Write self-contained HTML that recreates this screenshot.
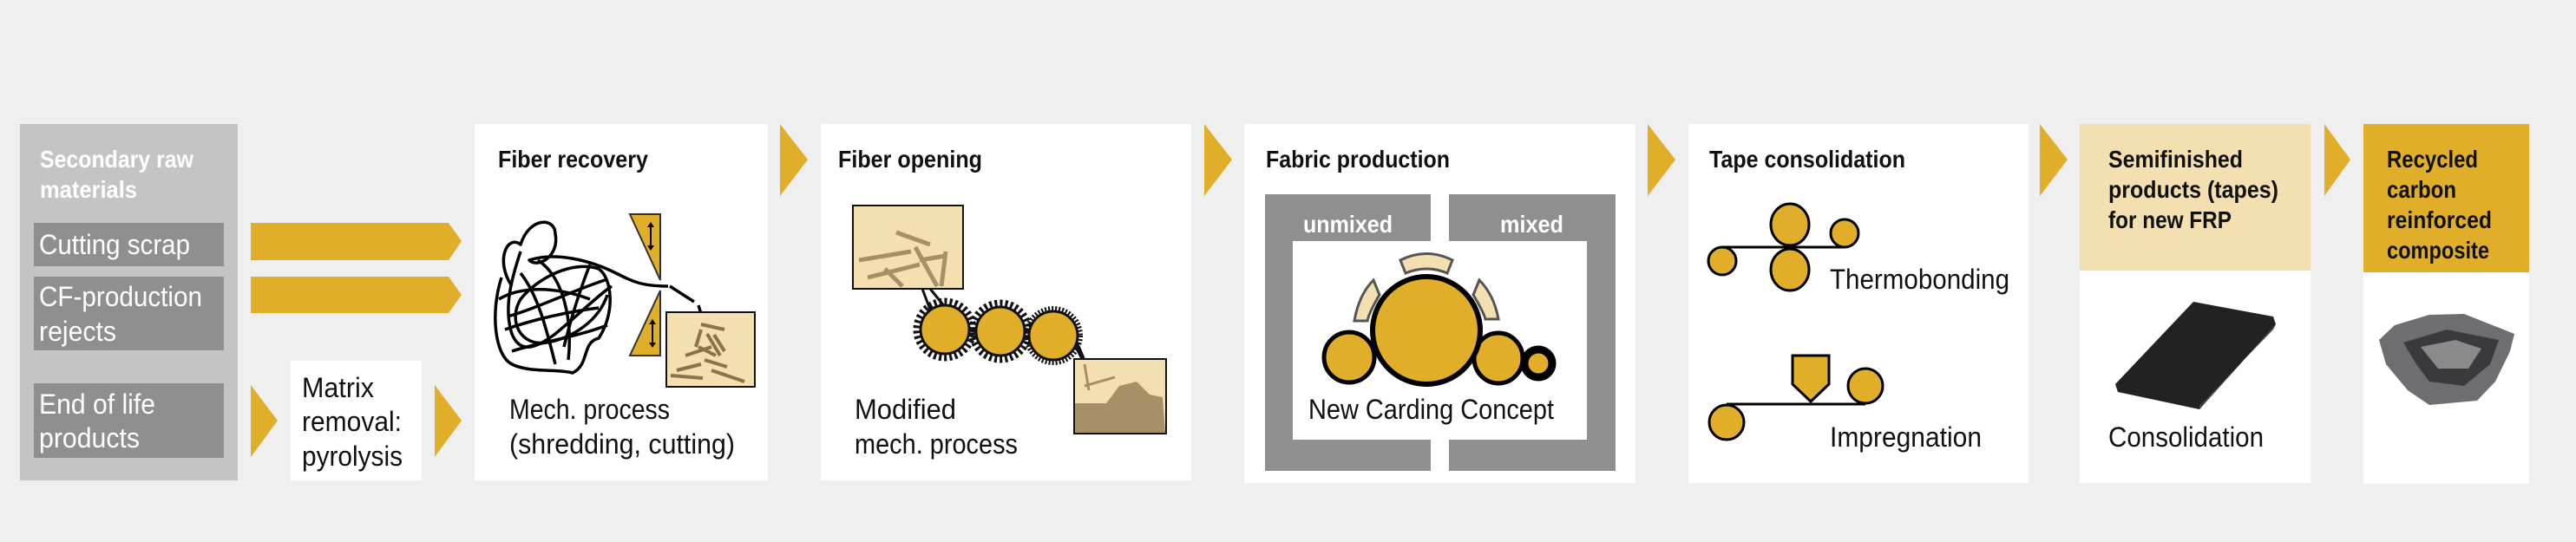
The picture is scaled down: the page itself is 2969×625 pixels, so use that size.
<!DOCTYPE html>
<html><head><meta charset="utf-8"><style>
html,body{margin:0;padding:0;background:#efefef;}
svg{display:block;}
text{font-family:"Liberation Sans Narrow","Liberation Sans",sans-serif;}
.t{font-weight:bold;font-size:28px;fill:#111;}
.b{font-size:32px;fill:#111;}
.w{font-size:32px;fill:#fff;}
</style></head><body>
<svg width="2969" height="625" viewBox="0 0 2969 625" xmlns="http://www.w3.org/2000/svg">
<rect width="2969" height="625" fill="#efefef"/>
<!-- left panel -->
<rect x="23" y="143" width="251" height="411" fill="#c4c4c4"/>
<text x="46" y="193" style="font-weight:bold;font-size:28px;fill:#fff" textLength="177" lengthAdjust="spacingAndGlyphs">Secondary raw</text>
<text x="46" y="228" style="font-weight:bold;font-size:28px;fill:#fff" textLength="112" lengthAdjust="spacingAndGlyphs">materials</text>
<rect x="39" y="257" width="219" height="50" fill="#8f8f8f"/>
<text x="45" y="293" class="w" textLength="174" lengthAdjust="spacingAndGlyphs">Cutting scrap</text>
<rect x="39" y="319" width="219" height="85" fill="#8f8f8f"/>
<text x="45" y="353" class="w" textLength="188" lengthAdjust="spacingAndGlyphs">CF-production</text>
<text x="45" y="393" class="w" textLength="89" lengthAdjust="spacingAndGlyphs">rejects</text>
<rect x="39" y="442" width="219" height="86" fill="#8f8f8f"/>
<text x="45" y="477" class="w" textLength="134" lengthAdjust="spacingAndGlyphs">End of life</text>
<text x="45" y="516" class="w" textLength="116" lengthAdjust="spacingAndGlyphs">products</text>
<!-- arrows -->
<g fill="#e0ae28">
<polygon points="289,257 517,257 532,278 517,300 289,300"/>
<polygon points="289,319 517,319 532,340 517,361 289,361"/>
<polygon points="289,444 320,485 289,527"/>
<polygon points="501,444 532,485 501,527"/>
<polygon points="899,143 931,184 899,226"/>
<polygon points="1388,143 1420,184 1388,226"/>
<polygon points="1899,143 1931,184 1899,226"/>
<polygon points="2351,143 2383,184 2351,226"/>
<polygon points="2679,143 2709,184 2679,226"/>
</g>
<!-- matrix -->
<rect x="335" y="416" width="151" height="138" fill="#fff"/>
<text x="348" y="458" class="b" textLength="83" lengthAdjust="spacingAndGlyphs">Matrix</text>
<text x="348" y="497" class="b" textLength="115" lengthAdjust="spacingAndGlyphs">removal:</text>
<text x="348" y="537" class="b" textLength="116" lengthAdjust="spacingAndGlyphs">pyrolysis</text>
<!-- fiber recovery -->
<rect x="547" y="143" width="338" height="411" fill="#fff"/>
<text x="574" y="193" class="t" textLength="173" lengthAdjust="spacingAndGlyphs">Fiber recovery</text>
<g fill="none" stroke="#000" stroke-width="3.5" stroke-linejoin="round">
<path d="M590,330 C570,300 585,270 600,282 C610,250 640,250 640,270 C645,295 620,310 610,300 C640,290 680,300 710,315 C730,325 740,330 770,330"/>
<path d="M578,320 C565,360 570,410 590,420 C610,430 640,425 660,430 C680,420 670,395 690,390 C710,360 705,320 690,310 C660,300 620,320 600,345 C585,370 600,400 630,395 C660,390 690,370 700,340"/>
<path d="M582,380 C610,370 650,360 690,355 M585,365 C620,355 660,335 700,322 M590,405 C620,395 660,390 700,375 M600,315 C620,340 630,380 640,420 M620,300 C650,320 660,370 655,415 M680,305 C670,330 660,360 650,400 M575,345 C600,330 640,330 680,345"/>
<path d="M600,290 C590,320 580,355 590,385 C600,410 620,400 640,385 C670,360 690,340 705,330"/>
<path d="M772,330 L800,348 M805,352 L808,362"/>
</g>
<polygon points="726,247 761,247 761,323" fill="#e0ae28" stroke="#333" stroke-width="2"/>
<polygon points="761,335 761,410 726,410" fill="#e0ae28" stroke="#333" stroke-width="2"/>
<g stroke="#000" stroke-width="2"><line x1="750" y1="260" x2="750" y2="285"/><line x1="752" y1="372" x2="752" y2="397"/></g>
<g fill="#000"><polygon points="746,262 754,262 750,256"/><polygon points="746,283 754,283 750,289"/><polygon points="748,374 756,374 752,368"/><polygon points="748,395 756,395 752,401"/></g>
<rect x="768" y="360" width="102" height="86" fill="#f3dfb0" stroke="#111" stroke-width="2"/>
<g stroke="#8a7448" stroke-width="4"><line x1="808" y1="374" x2="835" y2="380"/><line x1="808" y1="380" x2="802" y2="400"/><line x1="815" y1="385" x2="830" y2="410"/><line x1="823" y1="386" x2="835" y2="405"/><line x1="790" y1="410" x2="820" y2="400"/><line x1="805" y1="400" x2="825" y2="410"/><line x1="812" y1="415" x2="838" y2="423"/><line x1="780" y1="427" x2="808" y2="420"/><line x1="820" y1="427" x2="858" y2="440"/><line x1="773" y1="433" x2="810" y2="436"/></g>
<text x="587" y="483" class="b" textLength="185" lengthAdjust="spacingAndGlyphs">Mech. process</text>
<text x="587" y="523" class="b" textLength="260" lengthAdjust="spacingAndGlyphs">(shredding, cutting)</text>
<!-- fiber opening -->
<rect x="946" y="143" width="427" height="411" fill="#fff"/>
<text x="966" y="193" class="t" textLength="166" lengthAdjust="spacingAndGlyphs">Fiber opening</text>
<rect x="983" y="237" width="127" height="96" fill="#f3dfb0" stroke="#111" stroke-width="2"/>
<g stroke="#a89066" stroke-width="5"><line x1="1033" y1="268" x2="1072" y2="282"/><line x1="990" y1="300" x2="1050" y2="290"/><line x1="1000" y1="320" x2="1060" y2="305"/><line x1="1055" y1="285" x2="1080" y2="330"/><line x1="1060" y1="300" x2="1090" y2="295"/><line x1="1090" y1="290" x2="1085" y2="330"/><line x1="1020" y1="310" x2="1040" y2="330"/></g>
<g stroke="#111" stroke-width="3" fill="none"><path d="M1063,333 L1075,365 M1072,333 L1090,355 M1224,370 C1235,380 1245,400 1255,430 M1230,380 L1250,420"/></g>
<g>
<circle cx="1089" cy="380" r="32" fill="none" stroke="#111" stroke-width="9" stroke-dasharray="3 3"/>
<circle cx="1089" cy="380" r="28" fill="#e0ae28" stroke="#111" stroke-width="3"/>
<circle cx="1153" cy="382" r="32" fill="none" stroke="#111" stroke-width="9" stroke-dasharray="3 3"/>
<circle cx="1153" cy="382" r="28" fill="#e0ae28" stroke="#111" stroke-width="3"/>
<circle cx="1214" cy="387" r="31" fill="none" stroke="#111" stroke-width="6" stroke-dasharray="2 2"/>
<circle cx="1214" cy="387" r="28" fill="#e0ae28" stroke="#111" stroke-width="3"/>
</g>
<rect x="1238" y="414" width="106" height="86" fill="#f3dfb0" stroke="#111" stroke-width="2"/>
<path d="M1239,465 L1275,465 L1290,445 L1310,440 L1325,455 L1340,458 L1343,499 L1239,499 Z" fill="#a89066"/>
<g stroke="#a89066" stroke-width="3"><line x1="1250" y1="420" x2="1255" y2="450"/><line x1="1250" y1="445" x2="1285" y2="435"/></g>
<text x="985" y="483" class="b" textLength="117" lengthAdjust="spacingAndGlyphs">Modified</text>
<text x="985" y="523" class="b" textLength="188" lengthAdjust="spacingAndGlyphs">mech. process</text>
<!-- fabric production -->
<rect x="1434" y="143" width="451" height="414" fill="#fff"/>
<text x="1459" y="193" class="t" textLength="212" lengthAdjust="spacingAndGlyphs">Fabric production</text>
<rect x="1458" y="224" width="191" height="319" fill="#8f8f8f"/>
<rect x="1670" y="224" width="192" height="319" fill="#8f8f8f"/>
<rect x="1490" y="278" width="339" height="229" fill="#fff"/>
<text x="1502" y="268" style="font-weight:bold;font-size:28px;fill:#fff" textLength="103" lengthAdjust="spacingAndGlyphs">unmixed</text>
<text x="1729" y="268" style="font-weight:bold;font-size:28px;fill:#fff" textLength="73" lengthAdjust="spacingAndGlyphs">mixed</text>
<g fill="#f3dfb0" stroke="#555" stroke-width="3">
<path d="M1614,300 Q1644,285 1674,300 L1668,315 Q1644,305 1620,315 Z"/>
<path d="M1583,323 L1590,340 Q1578,360 1576,370 L1561,370 Q1566,340 1583,323 Z"/>
<path d="M1705,323 L1698,340 Q1710,360 1712,368 L1727,368 Q1722,340 1705,323 Z"/>
</g>
<ellipse cx="1555" cy="412" rx="29" ry="29" fill="#e0ae28" stroke="#000" stroke-width="5"/>
<ellipse cx="1727" cy="413" rx="28" ry="29" fill="#e0ae28" stroke="#000" stroke-width="5"/>
<ellipse cx="1644" cy="381" rx="62" ry="62" fill="#e0ae28" stroke="#000" stroke-width="6"/>
<circle cx="1773" cy="419" r="16" fill="#e0ae28" stroke="#000" stroke-width="9"/>
<text x="1508" y="483" class="b" textLength="283" lengthAdjust="spacingAndGlyphs">New Carding Concept</text>
<!-- tape consolidation -->
<rect x="1946" y="143" width="392" height="414" fill="#fff"/>
<text x="1970" y="193" class="t" textLength="226" lengthAdjust="spacingAndGlyphs">Tape consolidation</text>
<g fill="#e0ae28" stroke="#000" stroke-width="3">
<path d="M1985,285 L2126,285" fill="none"/>
<circle cx="1985" cy="301" r="16"/>
<ellipse cx="2063" cy="259" rx="22" ry="24"/>
<ellipse cx="2063" cy="311" rx="22" ry="24"/>
<circle cx="2126" cy="269" r="16"/>
<path d="M1990,466 L2150,466" fill="none"/>
<circle cx="1990" cy="487" r="20"/>
<circle cx="2150" cy="445" r="20"/>
<polygon points="2066,410 2108,410 2108,443 2087,463 2066,443"/>
</g>
<text x="2109" y="333" class="b" textLength="207" lengthAdjust="spacingAndGlyphs">Thermobonding</text>
<text x="2109" y="515" class="b" textLength="175" lengthAdjust="spacingAndGlyphs">Impregnation</text>
<!-- semifinished -->
<rect x="2397" y="143" width="266" height="414" fill="#fff"/>
<rect x="2397" y="143" width="266" height="169" fill="#f3dfb0"/>
<text x="2430" y="193" class="t" textLength="155" lengthAdjust="spacingAndGlyphs">Semifinished</text>
<text x="2430" y="228" class="t" textLength="196" lengthAdjust="spacingAndGlyphs">products (tapes)</text>
<text x="2430" y="263" class="t" textLength="142" lengthAdjust="spacingAndGlyphs">for new FRP</text>
<polygon points="2528,348 2620,365 2623,374 2535,472 2441,452 2438,443" fill="#222"/>
<polygon points="2535,472 2623,374 2620,380 2535,468" fill="#444"/>
<text x="2430" y="515" class="b" textLength="179" lengthAdjust="spacingAndGlyphs">Consolidation</text>
<!-- recycled -->
<rect x="2724" y="143" width="191" height="415" fill="#fff"/>
<rect x="2724" y="143" width="191" height="171" fill="#e0ae28"/>
<text x="2751" y="193" class="t" textLength="105" lengthAdjust="spacingAndGlyphs">Recycled</text>
<text x="2751" y="228" class="t" textLength="80" lengthAdjust="spacingAndGlyphs">carbon</text>
<text x="2751" y="263" class="t" textLength="121" lengthAdjust="spacingAndGlyphs">reinforced</text>
<text x="2751" y="298" class="t" textLength="118" lengthAdjust="spacingAndGlyphs">composite</text>
<polygon points="2742,392 2760,375 2800,363 2840,362 2898,385 2893,405 2876,440 2855,462 2800,467 2775,450 2750,420" fill="#6e6e72"/>
<polygon points="2770,395 2820,380 2880,392 2870,420 2840,445 2800,440 2785,420" fill="#3a3a3e"/>
<polygon points="2790,400 2830,392 2860,402 2845,425 2810,425" fill="#8a8a8a"/>
</svg>
</body></html>
